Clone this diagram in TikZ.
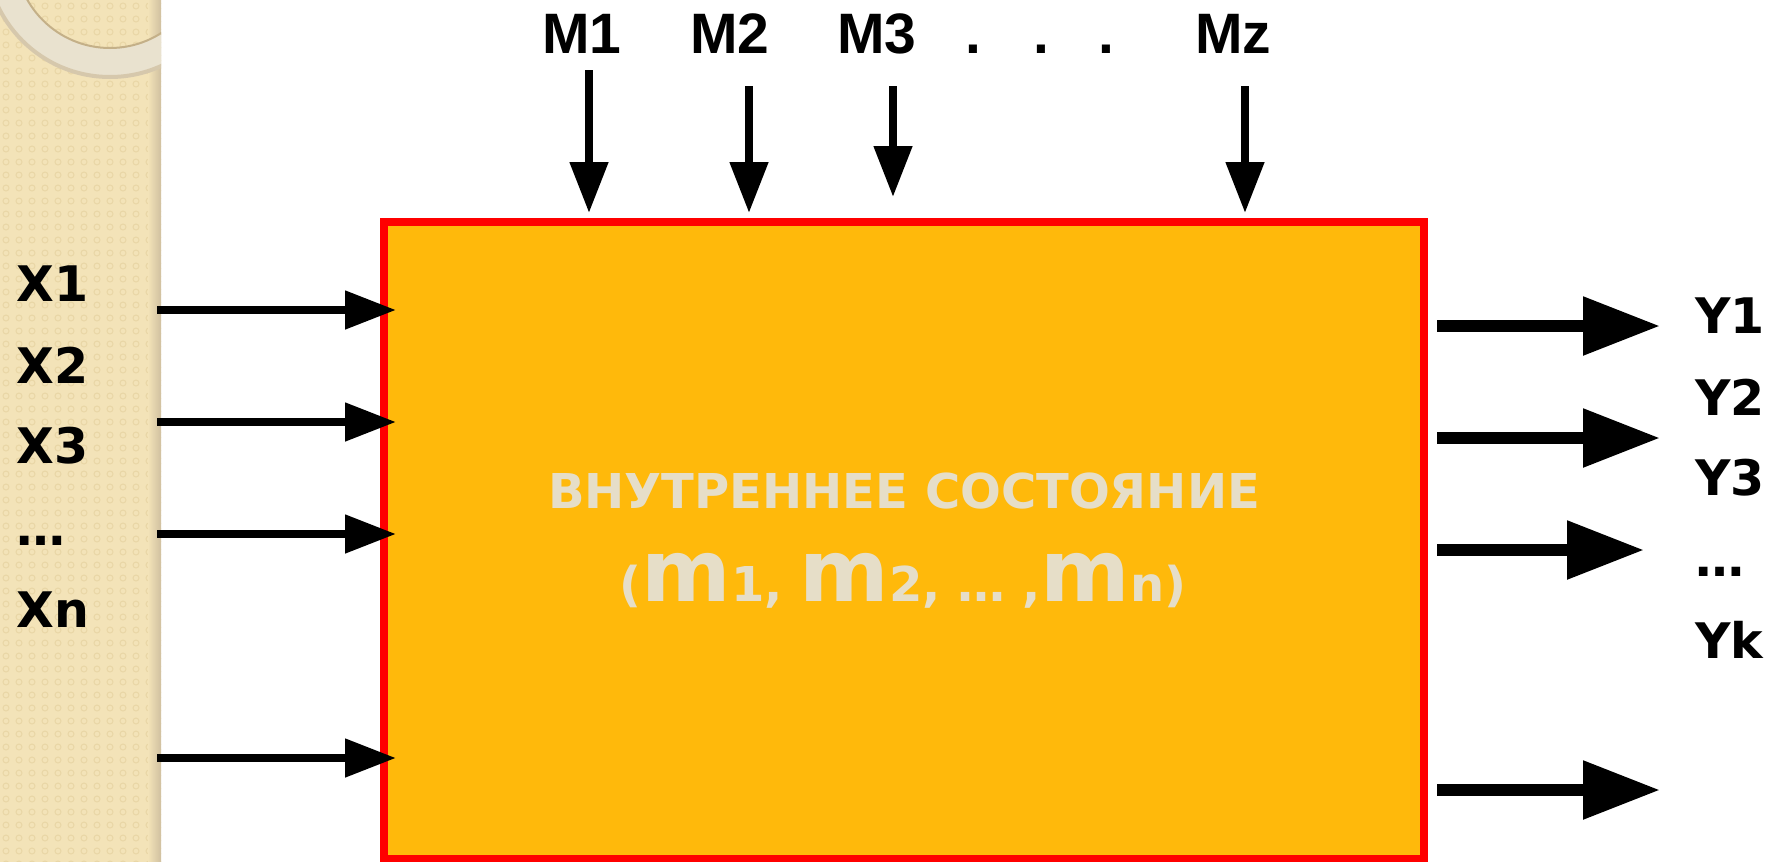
\documentclass[tikz,border=0pt]{standalone}
\usepackage{fontspec}
\setmainfont{DejaVu Sans}
\newfontfamily\arialfont{Liberation Sans}
\usetikzlibrary{arrows.meta}
\definecolor{boxorange}{RGB}{255,185,11}
\definecolor{boxred}{RGB}{255,0,0}
\definecolor{statetext}{RGB}{230,222,200}
\definecolor{stripbeige}{RGB}{243,227,184}
\definecolor{stripdot}{RGB}{233,214,166}
\definecolor{ringbeige}{RGB}{233,226,207}
\definecolor{ringedge}{RGB}{196,176,136}
\newcommand{\bigletter}[1]{{\fontsize{43pt}{43pt}\selectfont #1}}

\begin{document}
\begin{tikzpicture}[x=0.5pt,y=-0.5pt,
	lbl/.style={font=\fontsize{24.5pt}{24.5pt}\selectfont\bfseries,inner sep=0pt,anchor=base west},
	mlbl/.style={font=\arialfont\fontsize{28.5pt}{28.5pt}\selectfont\bfseries,inner sep=0pt,anchor=base},
	statelbl/.style={font=\fontsize{24pt}{24pt}\selectfont\bfseries,text=statetext,inner sep=0pt,anchor=base},
	thin arrow/.style={line width=4pt,-{Triangle[length=25.5pt,width=18.5pt]}},
	thick arrow/.style={line width=6pt,-{Triangle[length=38.5pt,width=28pt]}}]
	\useasboundingbox (0,0) rectangle (1773,862);
	% beige strip with ring
	\begin{scope}
		\clip (0,0) rectangle (161,862);
		\fill[stripbeige] (0,0) rectangle (161,862);
		\foreach \i in {0,...,12}
			\foreach \j in {0,...,66}
				\draw[stripdot,line width=0.5pt] (6+13*\i,6+13*\j) circle[radius=3];
		\shade[left color=stripbeige,right color=ringedge!80] (148,0) rectangle (161,862);
		\fill[ringbeige,even odd rule] (110,-47) circle[radius=124] (110,-47) circle[radius=95];
		\draw[ringedge,line width=1pt] (110,-47) circle[radius=95];
		\draw[ringedge!70,line width=2pt] (110,-47) circle[radius=124];
	\end{scope}

	\node[draw=boxred,fill=boxorange,line width=4pt,minimum width=520pt,minimum height=318.5pt,inner sep=0pt] (box) at (904,540.5) {};
	\node[statelbl] (title) at (904,508) {ВНУТРЕННЕЕ СОСТОЯНИЕ};
	\node[statelbl] (vars) at (903,601) {(\bigletter{m}1, \bigletter{m}2, … ,\bigletter{m}n)};

	% labels
	\foreach \n/\t/\y in {1/X1/301,2/X2/383,3/X3/463,4/…/545,5/Xn/627}
		\node[lbl] (x\n) at (16,\y) {\t};
	\foreach \n/\t/\y in {1/Y1/333,2/Y2/415,3/Y3/495,4/…/576,5/Yk/658}
		\node[lbl] (y\n) at (1695,\y) {\t};
	\foreach \n/\t/\x in {1/M1/582,2/M2/730,3/M3/877,4/Mz/1233}
		\node[mlbl] (m\n) at (\x,54) {\t};
	\foreach \n/\x in {1/973,2/1041,3/1106}
		\node[mlbl] (dot\n) at (\x,54) {.};

	% free ends of the arrows
	\foreach \n/\y in {1/310,2/422,3/534,4/758}
		\coordinate (in\n) at (157,\y);
	\foreach \n/\x/\y in {1/1660/326,2/1660/438,3/1644/550,4/1660/790}
		\coordinate (out\n) at (\x,\y);
	\foreach \n/\x/\y in {1/589/70,2/749/86,3/893/86,4/1245/86}
		\coordinate (top\n) at (\x,\y);

	\foreach \n in {1,...,4}
		\path[thin arrow] (in\n) edge ([xshift=8pt]in\n -| box.west);
	\foreach \n in {1,...,4}
		\path[thick arrow] ([xshift=4.5pt]box.east |- out\n) edge (out\n);
	\foreach \n/\s in {1/2.5,2/2.5,3/10.5,4/2.5}
		\path[thin arrow] (top\n) edge ([yshift=\s pt]top\n |- box.north);
\end{tikzpicture}
\end{document}
